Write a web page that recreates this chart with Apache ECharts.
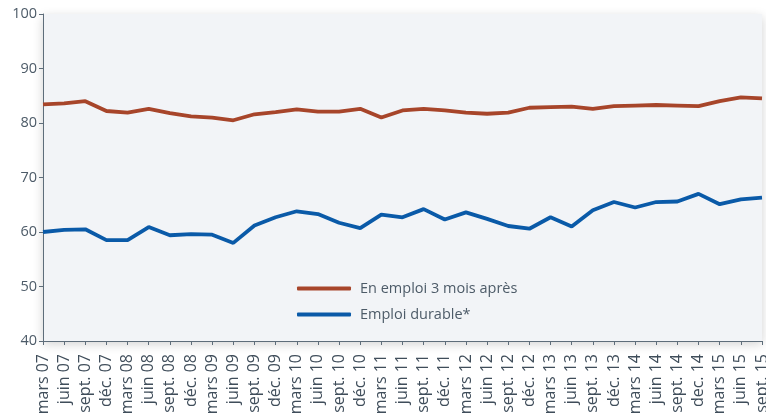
<!DOCTYPE html>
<html>
<head>
<meta charset="utf-8">
<script src="https://cdn.jsdelivr.net/npm/echarts@6/dist/echarts.min.js"></script>
<style>
  html, body { margin: 0; padding: 0; background: #fff; }
  #chart { width: 766px; height: 414px; }
</style>
</head>
<body>
<div id="chart"></div>
<script>
const categories = [
  'mars 07', 'juin 07', 'sept. 07', 'déc. 07',
  'mars 08', 'juin 08', 'sept. 08', 'déc. 08',
  'mars 09', 'juin 09', 'sept. 09', 'déc. 09',
  'mars 10', 'juin 10', 'sept. 10', 'déc. 10',
  'mars 11', 'juin 11', 'sept. 11', 'déc. 11',
  'mars 12', 'juin 12', 'sept. 12', 'déc. 12',
  'mars 13', 'juin 13', 'sept. 13', 'déc. 13',
  'mars 14', 'juin 14', 'sept. 14', 'dec. 14',
  'mars 15', 'juin 15', 'sept. 15'
]
const enEmploi = [
  83.4, 83.6, 84.0, 82.2, 81.9, 82.6, 81.8, 81.2, 81.0, 80.5,
  81.6, 82.0, 82.5, 82.1, 82.1, 82.6, 81.0, 82.3, 82.6, 82.3,
  81.9, 81.7, 81.9, 82.8, 82.9, 83.0, 82.6, 83.1, 83.2, 83.3,
  83.2, 83.1, 84.0, 84.7, 84.5
]
const emploiDurable = [
  60.0, 60.4, 60.5, 58.5, 58.5, 60.9, 59.4, 59.6, 59.5, 58.0,
  61.2, 62.7, 63.8, 63.3, 61.7, 60.7, 63.2, 62.7, 64.2, 62.3,
  63.6, 62.4, 61.1, 60.6, 62.7, 61.0, 64.0, 65.5, 64.5, 65.5,
  65.6, 67.0, 65.1, 66.0, 66.3
]

const textColor = '#4d5b68'
const axisColor = '#5e6d7a'

const myChart = echarts.init(document.getElementById('chart'))
myChart.setOption({
  animation: false,
  textStyle: { fontFamily: 'Open Sans' },
  grid: {
    left: 43,
    right: 4,
    top: 14,
    bottom: 73,
    outerBoundsMode: 'none',
    containLabel: false,
    show: true,
    borderWidth: 0,
    backgroundColor: '#f2f4f7',
    shadowColor: 'rgba(0,0,0,0.18)',
    shadowBlur: 10,
    shadowOffsetY: 3
  },
  legend: {
    left: 292,
    top: 276,
    orient: 'vertical',
    icon: 'roundRect',
    itemWidth: 54,
    itemHeight: 4,
    itemGap: 11,
    textStyle: { fontSize: 14.5, color: textColor, padding: [0, 0, 0, 4] },
    data: ['En emploi 3 mois après', 'Emploi durable*']
  },
  xAxis: {
    type: 'category',
    data: categories,
    boundaryGap: false,
    axisLine: { lineStyle: { color: axisColor, width: 1 } },
    axisTick: { alignWithLabel: true, length: 4, lineStyle: { color: axisColor } },
    axisLabel: {
      interval: 0,
      rotate: 90,
      fontSize: 16,
      color: '#3f4d5a',
      margin: 13
    }
  },
  yAxis: {
    type: 'value',
    min: 40,
    max: 100,
    interval: 10,
    splitLine: { show: false },
    axisLine: { show: true, lineStyle: { color: axisColor, width: 1 } },
    axisTick: { show: true, length: 4, lineStyle: { color: axisColor } },
    axisLabel: { fontSize: 14.5, color: textColor, margin: 6 }
  },
  series: [
    {
      name: 'En emploi 3 mois après',
      type: 'line',
      data: enEmploi,
      symbol: 'none',
      lineStyle: { color: '#a7452a', width: 3.8 },
      itemStyle: { color: '#a7452a' }
    },
    {
      name: 'Emploi durable*',
      type: 'line',
      data: emploiDurable,
      symbol: 'none',
      lineStyle: { color: '#0a5aa8', width: 3.8 },
      itemStyle: { color: '#0a5aa8' }
    }
  ]
})
</script>
</body>
</html>
